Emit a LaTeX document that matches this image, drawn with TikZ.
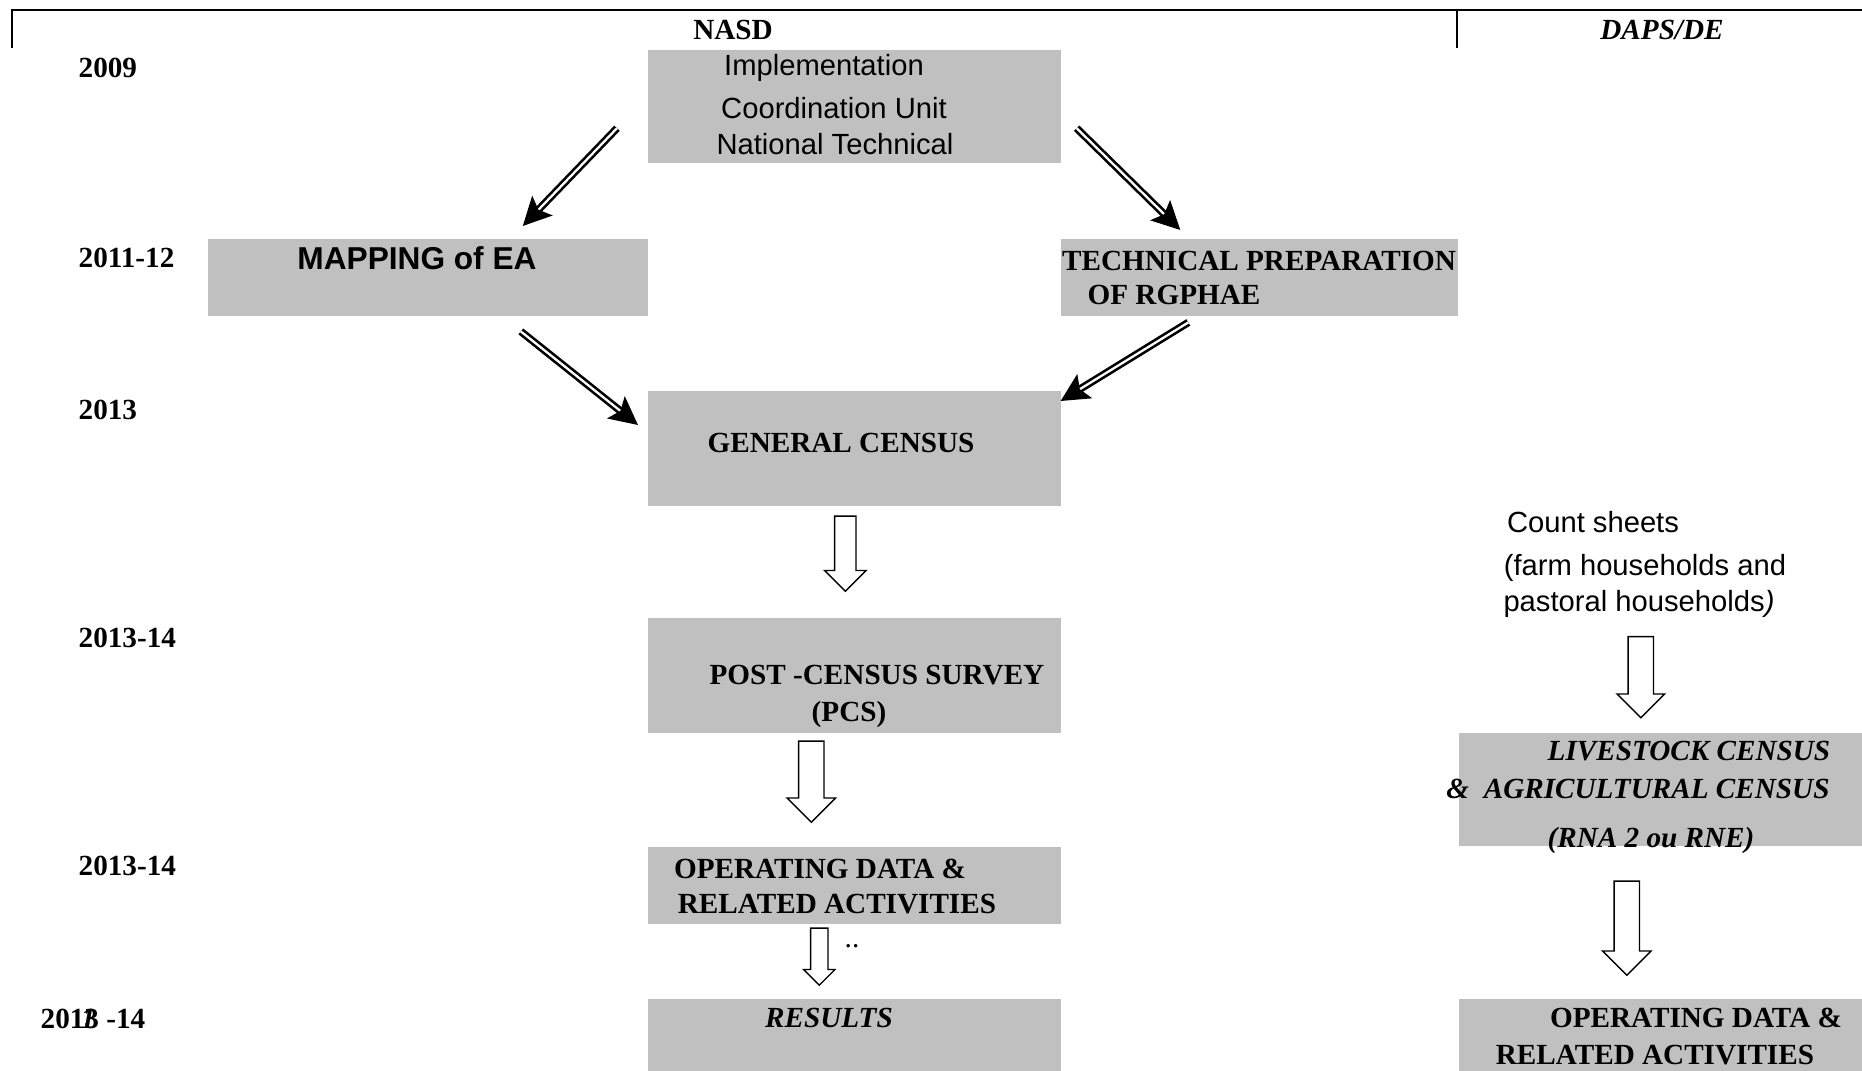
\documentclass[tikz,border=0pt]{standalone}
\usepackage{fontspec}
\setmainfont{Liberation Serif}
\setsansfont{Liberation Sans}
\usetikzlibrary{shapes.arrows,arrows.meta}
\definecolor{boxgray}{RGB}{192,192,192}
\begin{document}
\begin{tikzpicture}[x=0.01cm,y=-0.01cm,font=\fontsize{8.3}{9.5}\selectfont]

    % Define styles
    \tikzstyle{grey_box} = [fill=boxgray, inner sep=0pt, anchor=north west]
    \tikzstyle{year_label} = [anchor=west, inner sep=0pt, font=\fontsize{8.3}{9.5}\selectfont\bfseries]
    \tikzstyle{bold_text} = [inner sep=0pt, font=\fontsize{8.3}{9.5}\selectfont\bfseries]
    \tikzstyle{italic_text} = [inner sep=0pt, font=\fontsize{8.3}{9.5}\selectfont\bfseries\itshape]
    \tikzstyle{sans_text} = [inner sep=0pt, font=\fontsize{8.3}{9.5}\selectfont\sffamily]
    \tikzstyle{double_arrow} = [draw, double, line width=0.75pt, double distance=0.65pt, -{Stealth[length=8pt,width=8pt,inset=1.6pt]}]
    \tikzstyle{hollow_arrow} = [draw, fill=white, line width=0.4pt, single arrow, shape border rotate=270, single arrow tip angle=90, anchor=tail]

    % Draw frame
    \useasboundingbox (0,0) rectangle (1862,1071);
    \draw [line width=0.65pt] (12,48) -- (12,10) -- (1862,10);
    \draw [line width=0.65pt] (1457,10) -- (1457,48);
    \node [bold_text] (nasd) at (733,30) {NASD};
    \node [italic_text] (daps) at (1662,30) {DAPS/DE};

    % Draw years
    \node [year_label] (y2009) at (78,68) {2009};
    \node [year_label] (y2011) at (78,258) {2011-12};
    \node [year_label] (y2013) at (78,410) {2013};
    \node [year_label] (y2013a) at (78,638) {2013-14};
    \node [year_label] (y2013b) at (78,866) {2013-14};
    \node [year_label] (y2013c) at (40,1019) {201\rlap{\kern-0.12em\itshape 1}3 -14};

    % Draw boxes
    \node [grey_box, minimum width=4.13cm, minimum height=1.13cm] (icu) at (647,49) {};
    \node [grey_box, minimum width=4.40cm, minimum height=0.77cm] (map) at (207,238) {};
    \node [grey_box, minimum width=3.97cm, minimum height=0.77cm] (tech) at (1060,238) {};
    \node [grey_box, minimum width=4.13cm, minimum height=1.15cm] (gc) at (647,390) {};
    \node [grey_box, minimum width=4.13cm, minimum height=1.15cm] (pcs) at (647,617) {};
    \node [grey_box, minimum width=4.13cm, minimum height=0.77cm] (opd) at (647,846) {};
    \node [grey_box, minimum width=4.13cm, minimum height=0.75cm] (res) at (647,998) {};
    \node [grey_box, minimum width=4.04cm, minimum height=1.13cm] (lvs) at (1458,732) {};
    \node [grey_box, minimum width=4.04cm, minimum height=0.75cm] (opr) at (1458,998) {};

    % Draw texts
    \node [sans_text] (icu1) at (824,68) {Implementation};
    \node [sans_text] (icu2) at (834,108) {Coordination Unit};
    \node [sans_text] (icu3) at (835,144) {National Technical};
    \node [sans_text, font=\fontsize{9}{10}\selectfont\sffamily\bfseries] (map1) at (417,258) {MAPPING of EA};
    \node [bold_text] (tech1) at (1259,261) {TECHNICAL PREPARATION};
    \node [bold_text] (tech2) at (1174,295) {OF RGPHAE};
    \node [bold_text] (gc1) at (841,443) {GENERAL CENSUS};
    \node [bold_text] (pcs1) at (877,675) {POST -CENSUS SURVEY};
    \node [bold_text] (pcs2) at (849,714) {(PCS)};
    \node [bold_text] (opd1) at (820,869) {OPERATING DATA \&};
    \node [bold_text] (opd2) at (837,904) {RELATED ACTIVITIES};
    \node [inner sep=0pt] (dots) at (852,946) {..};
    \node [italic_text] (res1) at (829,1018) {RESULTS};
    \node [sans_text] (cnt1) at (1593,522) {Count sheets};
    \node [sans_text] (cnt2) at (1645,568) {(farm households and};
    \node [sans_text] (cnt3) at (1639,604) {pastoral households\textit{)}};
    \node [italic_text] (lvs1) at (1689,751) {LIVESTOCK CENSUS};
    \node [italic_text] (lvs2) at (1638,789) {\&\ \ AGRICULTURAL CENSUS};
    \node [italic_text] (lvs3) at (1651,840) {(RNA 2 ou RNE)};
    \node [bold_text] (opr1) at (1696,1018) {OPERATING DATA \&};
    \node [bold_text] (opr2) at (1655,1055) {RELATED ACTIVITIES};

    % Draw double arrows
    \draw [double_arrow] ([shift={(-30,22)}]icu.west) -- ([shift={(95,-12)}]map.north);
    \draw [double_arrow] ([shift={(15,22)}]icu.east) -- ([shift={(-79,-8)}]tech.north);
    \draw [double_arrow] ([shift={(93,15)}]map.south) -- ([shift={(-9,35)}]gc.north west);
    \draw [double_arrow] ([shift={(-71,6)}]tech.south) -- ([shift={(-1,11)}]gc.north east);

    % Draw hollow arrows
    \node [hollow_arrow, inner sep=0.1cm, single arrow head extend=0.1cm, minimum height=0.75cm] (a1) at ([shift={(-9,9)}]gc.south) {};
    \node [hollow_arrow, inner sep=0.12cm, single arrow head extend=0.115cm, minimum height=0.81cm] (a2) at ([shift={(-43,7)}]pcs.south) {};
    \node [hollow_arrow, inner sep=0.08cm, single arrow head extend=0.07cm, minimum height=0.57cm] (a3) at ([shift={(-35,3)}]opd.south) {};
    \node [hollow_arrow, inner sep=0.12cm, single arrow head extend=0.11cm, minimum height=0.81cm] (a4) at ([shift={(-20,-96)}]lvs.north) {};
    \node [hollow_arrow, inner sep=0.12cm, single arrow head extend=0.115cm, minimum height=0.94cm] (a5) at ([shift={(-34,34)}]lvs.south) {};

\end{tikzpicture}
\end{document}
